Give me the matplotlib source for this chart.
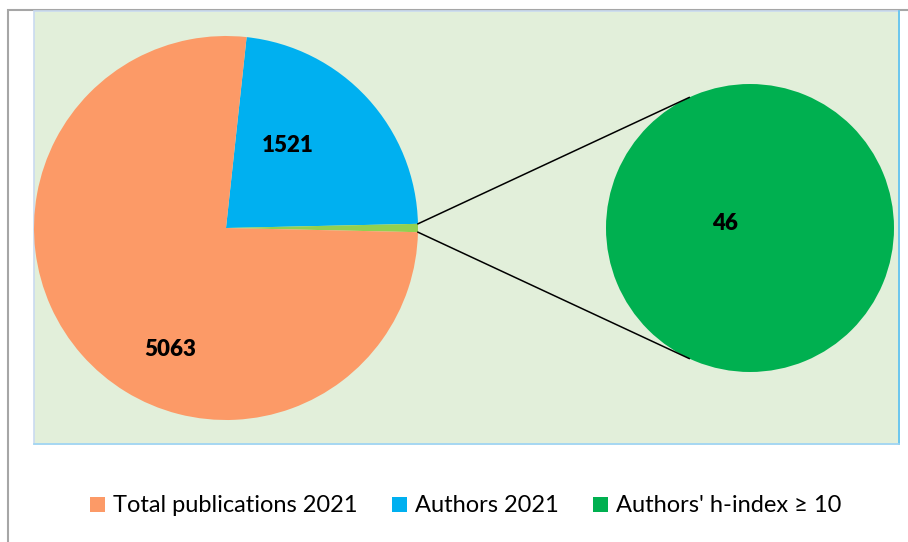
"""Pie-of-pie: publications vs authors vs authors with h-index >= 10."""

import numpy as np
import matplotlib
matplotlib.use("Agg")
import matplotlib.pyplot as plt
from matplotlib.patches import Patch, Rectangle

plt.rcParams["font.family"] = ["Lato", "DejaVu Sans"]

categories = ["Total publications 2021", "Authors 2021", "Authors' h-index \u2265 10"]
values = [5063, 1521, 46]
colors_main = ["#FC9A67", "#00B0F0", "#92D050"]
color_second = "#00B050"

W, H = 908, 542
fig = plt.figure(figsize=(W / 100, H / 100), dpi=100)
ax = fig.add_axes([0, 0, 1, 1])

# chart area border + plot area background (pixel coords, y up)
ax.add_patch(Rectangle((8, -5), 910, H - 10 + 5, facecolor="white", edgecolor="#A6A6A6", lw=1.5, zorder=0))
ax.add_patch(Rectangle((34, H - 444), 865, 433, facecolor="#E2EFDA", edgecolor="#C9DAF0", lw=1.2, zorder=0.5))
ax.plot([899, 899], [H - 444, H - 11], color="#5BC3EE", lw=1.2, zorder=0.6)
ax.plot([34, 899], [H - 444, H - 444], color="#9FD6F2", lw=1.2, zorder=0.6)

# main pie: blue, green, orange going clockwise from the top, green centred at 0 deg
c1, r1 = np.array([226.0, H - 228.0]), 192.0
total = sum(values)
order = [1, 2, 0]
start = (values[1] + values[2] / 2) / total * 360
ax.pie([values[i] for i in order], colors=[colors_main[i] for i in order],
       startangle=start, counterclock=False, center=tuple(c1), radius=r1,
       wedgeprops=dict(linewidth=0))

# second pie: just the h-index group
c2, r2 = np.array([750.0, H - 228.0]), 144.0
ax.pie([values[2]], colors=[color_second], center=tuple(c2), radius=r2,
       wedgeprops=dict(linewidth=0))

# connector lines: from edges of the small slice, tangent to the second pie
half = values[2] / total * 180
for sgn in (1, -1):
    th = np.radians(sgn * half)
    p = c1 + r1 * np.array([np.cos(th), np.sin(th)])
    d = p - c2
    phi = np.arctan2(d[1], d[0])
    a = phi - sgn * np.arccos(r2 / np.hypot(*d))
    q = c2 + r2 * np.array([np.cos(a), np.sin(a)])
    ax.plot([p[0], q[0]], [p[1], q[1]], color="black", lw=1.1, zorder=3)

# data labels
lab = dict(fontsize=16, fontweight="heavy", ha="center", va="center", zorder=4)
ax.text(c1[0] + 62, c1[1] + 82, str(values[1]), **lab)
ax.text(c1[0] - 56, c1[1] - 122, str(values[0]), **lab)
ax.text(c2[0] - 25, c2[1] + 4, str(values[2]), **lab)

ax.set_xlim(0, W)
ax.set_ylim(0, H)
ax.set_aspect("auto")
ax.axis("off")

handles = [Patch(facecolor=colors_main[0]), Patch(facecolor=colors_main[1]), Patch(facecolor=color_second)]
fig.legend(handles, categories, loc="center", bbox_to_anchor=(0.513, 1 - 506 / H), ncol=3,
           frameon=False, fontsize=17, handlelength=0.62, handleheight=0.62,
           handletextpad=0.35, columnspacing=1.45)

plt.savefig("out.png", dpi=100)
plt.close()
